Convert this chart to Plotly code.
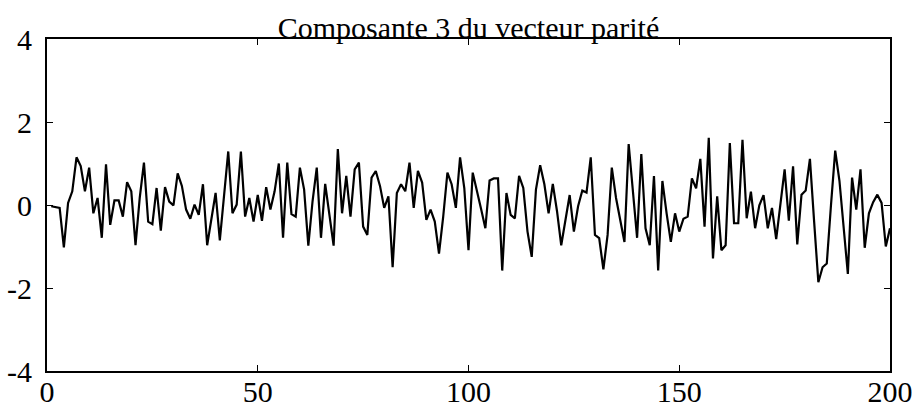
import numpy as np
import plotly.graph_objects as go

# Parity vector, component 3: one value per sample (samples 1..200)
comp3_1_40 = [
    -0.03, -0.05, -0.07, -1.02, 0.05, 0.33, 1.15, 0.94, 0.33, 0.90,
    -0.20, 0.17, -0.79, 0.98, -0.48, 0.11, 0.11, -0.28, 0.55, 0.33,
    -0.97, 0.17, 1.02, -0.40, -0.46, 0.41, -0.62, 0.43, 0.08, -0.01,
    0.76, 0.46, -0.11, -0.33, 0.01, -0.24, 0.50, -0.97, -0.36, 0.29,
]
comp3_41_80 = [
    -0.85, 0.20, 1.29, -0.20, 0.01, 1.29, -0.28, 0.17, -0.40, 0.24,
    -0.38, 0.43, -0.11, 0.33, 1.00, -0.79, 1.02, -0.22, -0.28, 0.90,
    0.37, -0.98, 0.09, 0.90, -0.79, 0.51, -0.20, -0.98, 1.35, -0.20,
    0.70, -0.28, 0.86, 1.02, -0.52, -0.72, 0.66, 0.82, 0.46, -0.07,
]
comp3_81_120 = [
    0.21, -1.50, 0.29, 0.50, 0.33, 1.02, -0.07, 0.82, 0.54, -0.36,
    -0.11, -0.40, -1.17, -0.28, 0.78, 0.50, -0.07, 1.15, 0.41, -1.09,
    0.78, 0.37, -0.10, -0.56, 0.59, 0.64, 0.64, -1.58, 0.29, -0.24,
    -0.32, 0.70, 0.41, -0.64, -1.25, 0.37, 0.96, 0.50, -0.20, 0.51,
]
comp3_121_160 = [
    -0.15, -0.97, -0.36, 0.24, -0.64, -0.03, 0.35, 0.30, 1.15, -0.72,
    -0.80, -1.55, -0.72, 0.90, 0.17, -0.40, -0.89, 1.47, 0.30, -0.79,
    1.23, -0.56, -0.97, 0.70, -1.58, 0.58, -0.20, -0.89, -0.20, -0.64,
    -0.33, -0.28, 0.64, 0.40, 1.11, -0.52, 1.62, -1.29, 0.21, -1.09,
]
comp3_161_200 = [
    -0.97, 1.49, -0.44, -0.44, 1.57, -0.32, 0.32, -0.56, -0.01, 0.24,
    -0.56, -0.07, -0.82, 0.00, 0.86, -0.38, 0.93, -0.95, 0.25, 0.35,
    1.11, -0.40, -1.86, -1.50, -1.41, 0.00, 1.31, 0.59, -0.50, -1.66,
    0.66, -0.11, 0.86, -1.03, -0.20, 0.07, 0.25, 0.05, -1.00, -0.56,
]

values = comp3_1_40 + comp3_41_80 + comp3_81_120 + comp3_121_160 + comp3_161_200
samples = np.arange(1, len(values) + 1)

x_ticks = [0, 50, 100, 150, 200]
y_ticks = [-4, -2, 0, 2, 4]
y_tick_labels = ["-4", "-2", "0", "2", "4"]
title_text = "Composante 3 du vecteur parité"

serif = "Liberation Serif, Times New Roman, serif"

fig = go.Figure(
    go.Scatter(
        x=samples,
        y=values,
        mode="lines",
        line=dict(color="black", width=2.2),
        showlegend=False,
        hoverinfo="skip",
    )
)

axis_common = dict(
    showline=True,
    linecolor="black",
    linewidth=1.8,
    mirror="ticks",
    ticks="inside",
    ticklen=6,
    tickwidth=1.4,
    tickcolor="black",
    showgrid=False,
    zeroline=False,
    automargin=False,
    tickfont=dict(family=serif, size=30, color="black"),
)

fig.update_xaxes(range=[0, 200], tickvals=x_ticks, ticklabelstandoff=-7, **axis_common)
fig.update_yaxes(range=[-4, 4], tickvals=y_ticks, ticktext=y_tick_labels,
                 ticklabelstandoff=7, **axis_common)

fig.update_layout(
    width=916,
    height=409,
    margin=dict(l=47, r=26, t=39, b=38),
    paper_bgcolor="white",
    plot_bgcolor="white",
    title=dict(
        text=title_text,
        x=0.5,
        xref="paper",
        xanchor="center",
        y=1,
        yref="paper",
        yanchor="bottom",
        pad=dict(b=1),
        automargin=False,
        font=dict(family=serif, size=30, color="black"),
    ),
)

fig.write_html("out.html")
